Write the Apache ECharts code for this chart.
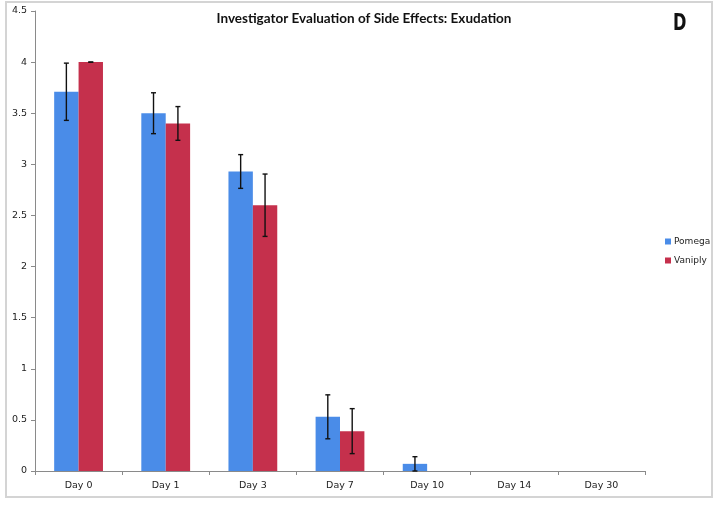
<!DOCTYPE html>
<html><head><meta charset="utf-8">
<script src="https://cdn.jsdelivr.net/npm/echarts@6/dist/echarts.min.js"></script>
<style>html,body{margin:0;padding:0;background:#fff}#c{width:716px;height:506px}</style>
</head><body><div id="c"></div>
<script>
const categories = ['Day 0','Day 1','Day 3','Day 7','Day 10','Day 14','Day 30'];
const pomega = [3.71, 3.5, 2.93, 0.53, 0.07, 0, 0];
const vaniply = [4.0, 3.4, 2.6, 0.39, 0, 0, 0];
const pomegaErr = [0.28, 0.2, 0.165, 0.215, 0.07, null, null];
const vaniplyErr = [0, 0.165, 0.305, 0.22, null, null, null];
const yTicks = [0, 0.5, 1, 1.5, 2, 2.5, 3, 3.5, 4, 4.5];

const GAP = 0.44;
function errData(vals, errs){
  return vals.map((v,i)=> errs[i]==null ? [i, null, null] : [i, Math.max(0, v-errs[i]), v+errs[i]]);
}
function errSeries(vals, errs, side){
  return {
    type:'custom', z:10, silent:true,
    renderItem(params, api){
      const lo = api.value(1), hi = api.value(2);
      if (lo == null || isNaN(lo)) return;
      const cw = api.size([1,0])[0];
      const bw = cw*(1-GAP)/2;
      const pLo = api.coord([api.value(0), lo]);
      const pHi = api.coord([api.value(0), hi]);
      const x = pLo[0] + side*bw/2;
      const c = 2.5;
      const st = {stroke:'#111', lineWidth:1.4};
      return {type:'group', children:[
        {type:'line', shape:{x1:x,y1:pLo[1],x2:x,y2:pHi[1]}, style:st},
        {type:'line', shape:{x1:x-c,y1:pHi[1],x2:x+c,y2:pHi[1]}, style:st},
        {type:'line', shape:{x1:x-c,y1:pLo[1],x2:x+c,y2:pLo[1]}, style:st}
      ]};
    },
    encode:{x:0, y:[1,2]},
    data: errData(vals, errs)
  };
}

const chart = echarts.init(document.getElementById('c'));
chart.setOption({
  animation:false,
  backgroundColor:'#fff',
  title:{text:'Investigator Evaluation of Side Effects: Exudation', left:359, textAlign:'center', top:7,
    textStyle:{fontFamily:'Lato', fontWeight:'bold', fontSize:13.5, color:'#111'}},
  legend:{orient:'vertical', left:660, top:232, itemWidth:6, itemHeight:6, itemGap:10,
    textStyle:{fontFamily:'DejaVu Sans', fontSize:9, color:'#222', padding:[0,0,0,-2]},
    data:['Pomega','Vaniply'], icon:'rect'},
  grid:{left:35, right:71, top:11, bottom:35},
  xAxis:{type:'category', data:categories,
    axisLine:{lineStyle:{color:'#8a8a8a'}},
    axisTick:{show:true, length:4, lineStyle:{color:'#8a8a8a'}},
    axisLabel:{fontFamily:'DejaVu Sans', fontSize:9.5, color:'#222', margin:10}},
  yAxis:{type:'value', min:0, max:4.5, interval:0.5,
    axisLine:{show:true, lineStyle:{color:'#8a8a8a'}},
    axisTick:{show:true, length:4, lineStyle:{color:'#8a8a8a'}},
    splitLine:{show:false},
    axisLabel:{fontFamily:'DejaVu Sans', fontSize:9.5, color:'#222', margin:8,
      formatter:v=> yTicks.includes(v) ? String(v) : ''}},
  series:[
    {name:'Pomega', type:'bar', data:pomega, barGap:'0%', barCategoryGap:(GAP*100)+'%',
      itemStyle:{color:'#4a8ce8'}},
    {name:'Vaniply', type:'bar', data:vaniply, itemStyle:{color:'#c5304c'}},
    errSeries(pomega, pomegaErr, -1),
    errSeries(vaniply, vaniplyErr, 1)
  ],
  graphic:[
    {type:'rect', shape:{x:6,y:2,width:706,height:495}, style:{fill:null, stroke:'#d4d4d4', lineWidth:2}, silent:true},
    {type:'text', x:673, y:13, scaleX:0.78, style:{text:'D', font:'bold 23px "DejaVu Sans Condensed", "DejaVu Sans", sans-serif', fill:'#111'}}
  ]
});
</script></body></html>
